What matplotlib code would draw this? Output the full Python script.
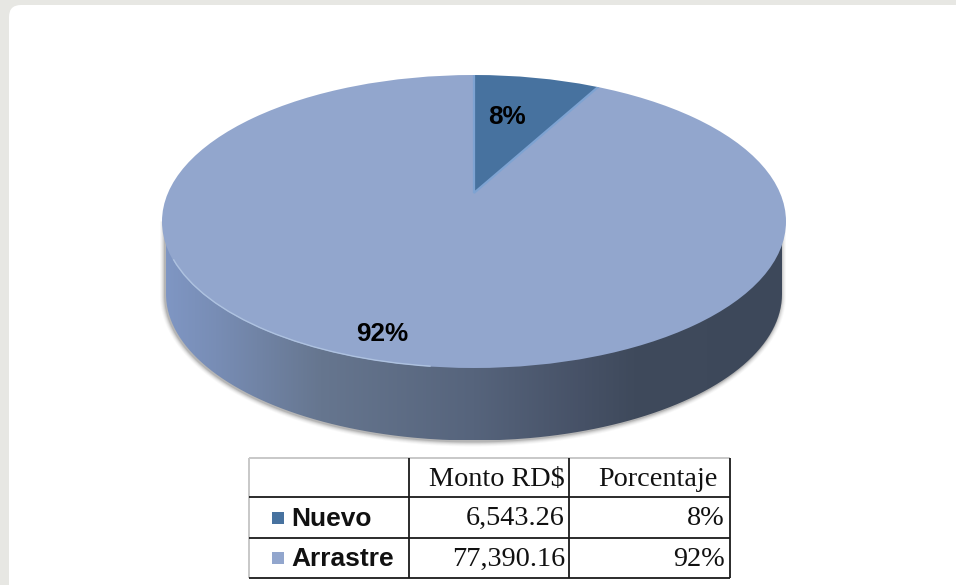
# Pie "Nuevo / Arrastre" with montos table underneath
import numpy as np
import matplotlib
matplotlib.use('Agg')
import matplotlib.pyplot as plt
from matplotlib.colors import LinearSegmentedColormap
from matplotlib.patches import Arc, Circle, FancyBboxPatch, PathPatch, Rectangle
from matplotlib.path import Path

categories = ['Nuevo', 'Arrastre']
montos = ['6,543.26', '77,390.16']
porcentajes = [8, 92]
table_header = ['Monto RD$', 'Porcentaje']

slice_colors = ['#47729f', '#92a6cd']
W, H = 956, 585

fig = plt.figure(figsize=(W / 100, H / 100), dpi=100, facecolor='#e7e7e3')
ax = fig.add_axes([0, 0, 1, 1])
ax.axis('off')

# white page over the marble background
ax.add_patch(FancyBboxPatch((9, 5), 1000, 700, boxstyle='round,pad=0,rounding_size=12',
                            fc='white', ec='none', zorder=0))

# ---- pie geometry (pixels) ----
cx, top_cy, rx, ry = 474, 221.5, 312, 146.5
low_cy = 294
side_rx = 308


def body_path(dx=0, dy=0, grow=0):
    t = np.linspace(0, np.pi, 200)
    xs = cx + dx + (side_rx + grow) * np.cos(t)
    ys = low_cy + dy + (ry + grow) * np.sin(t)
    xs = np.r_[xs, cx + dx - (side_rx + grow), cx + dx + side_rx + grow]
    ys = np.r_[ys, top_cy, top_cy]
    return Path(np.c_[xs, ys])


# soft shadow round the lower rim
for grow, alpha in zip([5, 4, 3, 2, 1], [0.04, 0.06, 0.09, 0.13, 0.2]):
    ax.add_patch(PathPatch(body_path(dx=-1, dy=1, grow=grow), fc='#555555', ec='none', alpha=alpha, zorder=1))

# side of the disc, gradient left to right
side_cmap = LinearSegmentedColormap.from_list('side', [
    (0.00, '#7f96c3'), (0.08, '#788db5'), (0.25, '#66768f'), (0.50, '#56647c'),
    (0.68, '#465166'), (0.76, '#3f4a5c'), (1.00, '#3d485a')])
grad = np.linspace(0, 1, 256)[None, :]
im = ax.imshow(grad, extent=[cx - side_rx, cx + side_rx, low_cy + ry, top_cy], cmap=side_cmap,
               aspect='auto', zorder=2)
im.set_clip_path(PathPatch(body_path(), transform=ax.transData))

ax.set_xlim(0, W)
ax.set_ylim(H, 0)

# top face, drawn with pie in its own squashed axes
pie_ax = fig.add_axes([(cx - rx) / W, 1 - (top_cy + ry) / H, 2 * rx / W, 2 * ry / H], zorder=3)
wedges, _ = pie_ax.pie(porcentajes, colors=slice_colors, startangle=90, counterclock=False,
                       center=(0, 0.195), radius=1.7)
pie_ax.set_aspect('auto')
pie_ax.set_xlim(-1, 1)
pie_ax.set_ylim(-1, 1)
pie_ax.axis('off')
clip = Circle((0, 0), 1, transform=pie_ax.transData)
wedges[0].set_edgecolor('#7ea3d2')
wedges[0].set_linewidth(1.6)
wedges[0].set_zorder(3)
for w in wedges:
    w.set_clip_on(True)
    w.set_clip_path(clip)

# pale rim light along the lower left edge
pie_ax.add_patch(Arc((0, 0), 1.995, 1.995, theta1=195, theta2=262, color='#aec2e0', lw=1.0, zorder=4))

# percent labels, in pixel coords over the pie
label_pos = [(507.5, 117), (382, 334)]
for pct, (lx, ly) in zip(porcentajes, label_pos):
    pie_ax.text(lx, ly, f'{pct}%', transform=ax.transData, family='Liberation Sans', weight='bold',
                fontsize=18.8, ha='center', va='center', color='black', zorder=6)

# ---- table ----
tx = [249, 409, 569, 730]
ty = [458, 497, 538, 578]
tbl = dict(zorder=5, solid_capstyle='butt')
ax.plot([tx[0], tx[3]], [ty[0], ty[0]], color='#c8c8c8', lw=1.4, **tbl)
ax.plot([tx[0], tx[0]], [ty[0], ty[3]], color='#c8c8c8', lw=1.4, **tbl)
for y in ty[1:]:
    ax.plot([tx[0], tx[3]], [y, y], color='#1a1a1a', lw=1.3, **tbl)
for x in tx[1:]:
    ax.plot([x, x], [ty[0], ty[3]], color='#1a1a1a', lw=1.3, **tbl)

serif = dict(family='Liberation Serif', fontsize=20.3, color='#111111', va='center', zorder=6)
ax.text(565, 480, table_header[0], ha='right', **serif)
ax.text(718, 480, table_header[1], ha='right', **serif)
for i, cat in enumerate(categories):
    ymid = (ty[i + 1] + ty[i + 2]) / 2
    ax.add_patch(Rectangle((272, ymid - 6), 12, 12, fc=slice_colors[i], ec='none', zorder=6))
    ax.text(291, ymid + 1, cat, family='Liberation Sans', weight='bold', fontsize=19,
            ha='left', va='center', color='#111111', zorder=6)
    ax.text(565, ymid + 1, montos[i], ha='right', **serif)
    ax.text(725, ymid + 1, f'{porcentajes[i]}%', ha='right', **serif)

fig.savefig('out.png', dpi=100, facecolor=fig.get_facecolor())
